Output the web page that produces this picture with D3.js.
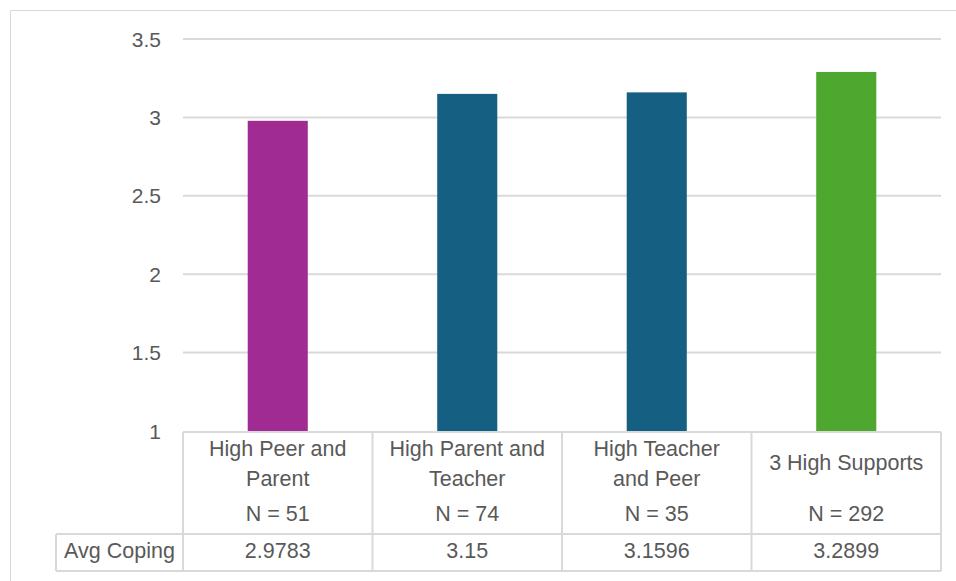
<!DOCTYPE html>
<html>
<head>
<meta charset="utf-8">
<script src="https://cdn.jsdelivr.net/npm/d3@7/dist/d3.min.js"></script>
<style>
  html, body { margin: 0; padding: 0; background: #fff; }
  svg { display: block; }
  text { font-family: "Liberation Sans", Arial, sans-serif; fill: #595959; }
</style>
</head>
<body>
<svg id="chart" width="956" height="581"></svg>
<script>
// Coping score by support-group combination
const categories = ["High Peer and Parent", "High Parent and Teacher", "High Teacher and Peer", "3 High Supports"];
const categoryLines = [["High Peer and", "Parent"], ["High Parent and", "Teacher"], ["High Teacher", "and Peer"], ["3 High Supports"]];
const groupN = [51, 74, 35, 292];
const avgCoping = [2.9783, 3.15, 3.1596, 3.2899];
const avgCopingLabels = ["2.9783", "3.15", "3.1596", "3.2899"];
const yTicks = [1, 1.5, 2, 2.5, 3, 3.5];
const barColors = ["#A02B93", "#156082", "#156082", "#4EA72E"];
const seriesName = "Avg Coping";

const svg = d3.select("#chart");
const gridColor = "#d9d9d9";
const tableFont = 21.5;

const plot = { left: 183, right: 941, top: 39, bottom: 431 };

const x = d3.scaleBand().domain(categories).range([plot.left, plot.right]).padding(0);
const y = d3.scaleLinear().domain([1, 3.5]).range([plot.bottom, plot.top]);
const barW = x.bandwidth() * 0.317;

// chart frame
svg.append("path")
  .attr("d", "M10.5,581 V10.5 H956")
  .attr("fill", "none").attr("stroke", gridColor).attr("stroke-width", 1);

// horizontal gridlines
svg.append("g").selectAll("line")
  .data(yTicks.filter(t => t > 1))
  .join("line")
  .attr("x1", plot.left).attr("x2", plot.right)
  .attr("y1", d => y(d)).attr("y2", d => y(d))
  .attr("stroke", gridColor).attr("stroke-width", 2);

// y tick labels
svg.append("g").selectAll("text")
  .data(yTicks)
  .join("text")
  .attr("x", 161)
  .attr("y", d => y(d))
  .attr("dy", "0.36em")
  .attr("text-anchor", "end")
  .attr("font-size", 21)
  .text(d => d);

// bars
svg.append("g").selectAll("rect")
  .data(categories)
  .join("rect")
  .attr("x", d => x(d) + (x.bandwidth() - barW) / 2)
  .attr("width", barW)
  .attr("y", (d, i) => y(avgCoping[i]))
  .attr("height", (d, i) => y(1) - y(avgCoping[i]))
  .attr("fill", (d, i) => barColors[i]);

// data table
const table = { top: 432, rowSplit: 534, bottom: 571, labelLeft: 56 };
const tg = svg.append("g").attr("fill", "none").attr("stroke", gridColor).attr("stroke-width", 2);
tg.append("line").attr("x1", plot.left).attr("x2", plot.right).attr("y1", table.top).attr("y2", table.top);
tg.append("line").attr("x1", table.labelLeft).attr("x2", plot.right).attr("y1", table.rowSplit).attr("y2", table.rowSplit);
tg.append("line").attr("x1", table.labelLeft).attr("x2", plot.right).attr("y1", table.bottom).attr("y2", table.bottom);
tg.append("line").attr("x1", table.labelLeft).attr("x2", table.labelLeft).attr("y1", table.rowSplit).attr("y2", table.bottom);
const colEdges = categories.map(c => x(c)).concat([plot.right]);
tg.selectAll("line.col").data(colEdges).join("line").attr("class", "col")
  .attr("x1", d => d).attr("x2", d => d)
  .attr("y1", table.top).attr("y2", table.bottom);

// category headers
const head = svg.append("g").selectAll("text")
  .data(categories)
  .join("text")
  .attr("text-anchor", "middle")
  .attr("font-size", tableFont)
  .attr("x", d => x(d) + x.bandwidth() / 2);
head.each(function(d, i) {
  const lines = categoryLines[i];
  const base = lines.length === 1 ? 470 : 456;
  d3.select(this).selectAll("tspan").data(lines).join("tspan")
    .attr("x", x(d) + x.bandwidth() / 2)
    .attr("y", (l, j) => base + j * 29.5)
    .text(l => l);
});

// group sizes
svg.append("g").selectAll("text")
  .data(categories)
  .join("text")
  .attr("text-anchor", "middle")
  .attr("font-size", tableFont)
  .attr("x", d => x(d) + x.bandwidth() / 2)
  .attr("y", 521)
  .text((d, i) => "N = " + groupN[i]);

// series values row
svg.append("text")
  .attr("x", (table.labelLeft + plot.left) / 2)
  .attr("y", 558)
  .attr("text-anchor", "middle")
  .attr("font-size", tableFont)
  .text(seriesName);
svg.append("g").selectAll("text")
  .data(categories)
  .join("text")
  .attr("text-anchor", "middle")
  .attr("font-size", tableFont)
  .attr("x", d => x(d) + x.bandwidth() / 2)
  .attr("y", 558)
  .text((d, i) => avgCopingLabels[i]);
</script>
</body>
</html>
